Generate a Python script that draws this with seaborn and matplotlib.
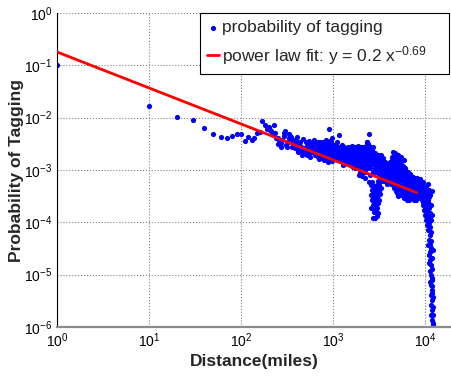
import matplotlib
matplotlib.use('Agg')
import matplotlib.pyplot as plt
import seaborn as sns

# sparse short-distance points
dist_near = [1, 10, 20, 30, 40, 50, 60, 70, 80, 90, 100, 110, 120, 130, 140, 150,
             160, 170, 180, 190, 200]
prob_near = [0.10, 0.0165, 0.0104, 0.0090, 0.0063, 0.0048, 0.0042, 0.0040, 0.0045,
             0.0048, 0.0048, 0.0036, 0.0043, 0.0037, 0.0041, 0.0050, 0.0054, 0.0086,
             0.0074, 0.0060, 0.0065]

# 200 - 1000 miles
dist_mid = [210, 220, 230, 240, 250, 260, 270, 280, 290, 300, 310, 320, 330, 340, 350,
            360, 370, 390, 400, 420, 430, 440, 450, 460, 480, 490, 500, 510, 520, 530,
            540, 550, 560, 570, 580, 590, 610, 620, 640, 650, 670, 690, 700, 720, 730,
            750, 760, 780, 790, 800, 820, 840, 850, 860, 870, 880, 890, 910, 930, 940,
            970, 980, 1000]
prob_mid = [0.0056, 0.0050, 0.0072, 0.0041, 0.0031, 0.0035, 0.0027, 0.0038, 0.0052,
            0.0056, 0.0030, 0.0034, 0.0040, 0.0044, 0.0043, 0.0037, 0.0032, 0.0026,
            0.0036, 0.0024, 0.0031, 0.0029, 0.0027, 0.0019, 0.0021, 0.0021, 0.0026,
            0.0024, 0.0029, 0.0031, 0.0021, 0.0021, 0.0026, 0.0032, 0.0022, 0.0027,
            0.0022, 0.0025, 0.0020, 0.0024, 0.0022, 0.0018, 0.0030, 0.0026, 0.0024,
            0.0021, 0.0019, 0.0026, 0.00155, 0.0020, 0.0021, 0.0018, 0.0022, 0.0032,
            0.00155, 0.0024, 0.0014, 0.0061, 0.0026, 0.0020, 0.0040, 0.0018, 0.0021]
dist_mid_b = [205, 235, 255, 275, 295, 315, 335, 355, 375, 385, 405, 415, 435, 455,
              470, 485, 505, 525, 545, 565, 585, 600, 615, 630, 645, 660, 680, 695,
              710, 725, 740, 755, 770, 785, 805, 815, 830, 845, 865, 885, 900, 915,
              925, 945, 960, 975, 990]
prob_mid_b = [0.0059, 0.0052, 0.0040, 0.0033, 0.0045, 0.0028, 0.0049, 0.0028, 0.0038,
              0.0030, 0.0043, 0.0022, 0.0035, 0.0023, 0.0039, 0.0026, 0.0034, 0.0019,
              0.0036, 0.0018, 0.0033, 0.0029, 0.0038, 0.0019, 0.0031, 0.0026, 0.0034,
              0.0016, 0.0028, 0.0035, 0.0017, 0.0031, 0.0024, 0.0035, 0.0017, 0.0029,
              0.0037, 0.0026, 0.0019, 0.0030, 0.0016, 0.0036, 0.0022, 0.0028, 0.0034,
              0.0015, 0.0029]

# 1000 - 2600 miles
dist_far = [1050, 1090, 1100, 1110, 1140, 1170, 1190, 1230, 1240, 1250, 1260, 1290,
            1320, 1350, 1380, 1390, 1420, 1450, 1460, 1490, 1530, 1600, 1610, 1620,
            1660, 1690, 1730, 1740, 1780, 1810, 1820, 1870, 1880, 1890, 1920, 1950,
            1960, 1970, 2020, 2060, 2070, 2080, 2110, 2130, 2170, 2180, 2230, 2240,
            2280, 2320, 2340, 2360, 2410, 2420, 2430, 2460, 2470, 2510, 2520, 2530, 2590]
prob_far = [0.0024, 0.0035, 0.0028, 0.0017, 0.0019, 0.0046, 0.0022, 0.00155, 0.0017,
            0.0030, 0.0026, 0.00124, 0.0018, 0.0022, 0.00155, 0.0021, 0.0025, 0.0014,
            0.0018, 0.0021, 0.0018, 0.0024, 0.00155, 0.0029, 0.00115, 0.0026, 0.0021,
            0.0011, 0.0018, 0.0022, 0.0014, 0.0029, 0.0015, 0.0008, 0.0024, 0.0013,
            0.00093, 0.0018, 0.00155, 0.0012, 0.0021, 0.00077, 0.0010, 0.0017, 0.0014,
            0.0024, 0.00115, 0.0007, 0.0018, 0.0035, 0.0024, 0.0035, 0.0032, 0.0026,
            0.0048, 0.00155, 0.00059, 0.00108, 0.0021, 0.0028, 0.0014]
dist_far_b = [1010, 1020, 1030, 1040, 1060, 1070, 1080, 1120, 1130, 1150, 1160, 1180,
              1200, 1210, 1220, 1270, 1280, 1300, 1310, 1330, 1340, 1360, 1370, 1400,
              1410, 1430, 1440, 1470, 1480, 1500, 1510, 1520, 1540, 1550, 1560, 1570,
              1580, 1590, 1630, 1640, 1650, 1670, 1680, 1700, 1710, 1720, 1750, 1760,
              1770, 1790, 1800, 1830, 1840, 1850, 1860, 1900, 1910, 1930, 1940, 1980,
              1990, 2000, 2010, 2030, 2040, 2050, 2090, 2100, 2120, 2140, 2150, 2160,
              2190, 2200, 2210, 2220, 2250, 2260, 2270, 2290, 2300, 2310, 2330, 2350,
              2370, 2380, 2390, 2400, 2440, 2450, 2480, 2490, 2500, 2540, 2550, 2560,
              2570]
prob_far_b = [0.0026, 0.0019, 0.0030, 0.0021, 0.0017, 0.0027, 0.0022, 0.0025, 0.0021,
              0.0027, 0.0016, 0.0024, 0.0019, 0.0027, 0.0021, 0.0019, 0.0023, 0.0016,
              0.0027, 0.0020, 0.0015, 0.0025, 0.0019, 0.0017, 0.0023, 0.0019, 0.0027,
              0.0015, 0.0024, 0.0017, 0.0028, 0.0020, 0.0013, 0.0022, 0.0026, 0.0016,
              0.0019, 0.0012, 0.0021, 0.0017, 0.0024, 0.0019, 0.0014, 0.0022, 0.0016,
              0.0027, 0.0019, 0.0024, 0.0013, 0.0021, 0.0016, 0.0019, 0.0024, 0.0011,
              0.0021, 0.0017, 0.0020, 0.0014, 0.0027, 0.0011, 0.0021, 0.0016, 0.0025,
              0.0019, 0.0013, 0.0027, 0.0016, 0.0022, 0.0013, 0.0020, 0.0009, 0.0027,
              0.0018, 0.0012, 0.0021, 0.0016, 0.0009, 0.0023, 0.0013, 0.0029, 0.0016,
              0.0020, 0.0011, 0.0030, 0.0019, 0.0026, 0.0014, 0.0022, 0.0019, 0.0029,
              0.0012, 0.0024, 0.0017, 0.0021, 0.0008, 0.0017, 0.0025]

# 2600 - 4500 miles, with the dip
dist_dip = [2580, 2600, 2610, 2640, 2650, 2660, 2670, 2710, 2720, 2730, 2735, 2740,
            2770, 2780, 2790, 2800, 2850, 2860, 2865, 2870, 2930, 2980, 2985, 2990,
            3000, 3010, 3015, 3080, 3085, 3090, 3160, 3165, 3170, 3230, 3240, 3250,
            3300, 3330, 3350, 3410, 3450, 3520, 3530, 3580, 3620, 3680, 3720, 3830,
            3860, 3900, 3950, 4000, 4060, 4170, 4270, 4320, 4380]
prob_dip = [0.00033, 0.00019, 0.00051, 0.00059, 0.0024, 0.00041, 0.00027, 0.00012,
            0.00030, 0.0028, 0.00029, 0.00021, 0.00049, 0.00016, 0.0019, 0.00036,
            0.00012, 0.00155, 0.00016, 0.00022, 0.00032, 0.00093, 0.00013, 0.00025,
            0.00051, 0.00124, 0.00019, 0.0017, 0.00041, 0.00015, 0.0011, 0.00027,
            0.00051, 0.00035, 0.00076, 0.0014, 0.0019, 0.00045, 0.0012, 0.0015, 0.0009,
            0.0013, 0.00061, 0.00091, 0.0011, 0.00073, 0.0009, 0.00093, 0.00054,
            0.0007, 0.0012, 0.00061, 0.0008, 0.0011, 0.0007, 0.00155, 0.0010]
dist_dip_b = [2620, 2680, 2690, 2700, 2750, 2760, 2810, 2820, 2830, 2840, 2880, 2890,
              2900, 2910, 2920, 2940, 2950, 2960, 2970, 3020, 3030, 3040, 3050, 3060,
              3070, 3100, 3110, 3120, 3130, 3140, 3180, 3190, 3200, 3210, 3260, 3280,
              3320, 3380, 3400, 3430, 3480, 3500, 3550, 3600, 3650, 3700, 3750, 3780,
              3800, 3880, 3920, 3980, 4020, 4100, 4130, 4200, 4230, 4300, 4350, 4400,
              4420, 4450]
prob_dip_b = [0.0017, 0.0013, 0.0021, 0.0009, 0.0016, 0.00024, 0.0013, 0.00045, 0.0021,
              0.00028, 0.0011, 0.00018, 0.0017, 0.00038, 0.0013, 0.0009, 0.00021, 0.0015,
              0.00044, 0.0009, 0.00031, 0.0014, 0.00023, 0.0019, 0.00063, 0.0012,
              0.00034, 0.0008, 0.0016, 0.00058, 0.0013, 0.00039, 0.0009, 0.0017,
              0.00068, 0.0011, 0.0008, 0.0016, 0.00072, 0.0011, 0.0017, 0.00082, 0.0011,
              0.00066, 0.0014, 0.0008, 0.0012, 0.00062, 0.0010, 0.0008, 0.00057, 0.0009,
              0.0013, 0.00066, 0.0009, 0.0014, 0.00055, 0.0009, 0.0012, 0.00066, 0.0018,
              0.0009]

# 4500 - 9000 miles
dist_west = [4480, 4490, 4530, 4590, 4600, 4710, 4720, 4830, 4840, 4850, 4950, 4960,
             5080, 5090, 5100, 5200, 5220, 5230, 5340, 5350, 5480, 5490, 5600, 5620,
             5640, 5750, 5770, 5900, 5910, 5920, 6050, 6060, 6200, 6220, 6230, 6360,
             6370, 6520, 6540, 6690, 6700, 6860, 6870, 6880, 7040, 7050, 7210, 7220,
             7400, 7410, 7580, 7590, 7600, 7780, 7790, 7980, 7990, 8180, 8190, 8380,
             8390, 8400, 8600, 8610, 8820, 8830]
prob_west = [0.00051, 0.0017, 0.0022, 0.0008, 0.0014, 0.00064, 0.0021, 0.0004, 0.0011,
             0.00087, 0.00051, 0.00155, 0.00077, 0.0019, 0.00032, 0.00043, 0.0010,
             0.00124, 0.00064, 0.0014, 0.00033, 0.0018, 0.00049, 0.00114, 0.0007,
             0.00038, 0.0008, 0.00029, 0.00155, 0.00064, 0.00045, 0.0010, 0.00036,
             0.00073, 0.00056, 0.00027, 0.00051, 0.00033, 0.00091, 0.00027, 0.00064,
             0.00029, 0.00041, 0.0007, 0.00036, 0.00077, 0.0003, 0.00054, 0.00033,
             0.00064, 0.00027, 0.00045, 0.0007, 0.00032, 0.00056, 0.00027, 0.00041,
             0.00033, 0.0007, 0.00029, 0.00049, 0.00064, 0.00049, 0.00038, 0.0003,
             0.00059]
dist_west_b = [4550, 4620, 4650, 4680, 4750, 4780, 4800, 4880, 4900, 4920, 5000, 5020,
               5050, 5120, 5150, 5170, 5260, 5290, 5310, 5400, 5420, 5450, 5530, 5560,
               5580, 5680, 5700, 5720, 5800, 5830, 5860, 5960, 5990, 6000, 6100, 6130,
               6160, 6260, 6290, 6320, 6420, 6450, 6480, 6580, 6610, 6640, 6750, 6780,
               6810, 6930, 6960, 6990, 7100, 7130, 7160, 7280, 7310, 7340, 7460, 7490,
               7520, 7650, 7680, 7710, 7850, 7880, 7910, 8050, 8080, 8110, 8250, 8280,
               8310, 8470, 8500, 8530, 8700, 8730, 8760]
prob_west_b = [0.0011, 0.00045, 0.0018, 0.0009, 0.0013, 0.00055, 0.0017, 0.0007,
               0.0012, 0.00036, 0.0009, 0.0014, 0.00058, 0.0011, 0.00045, 0.0016, 0.0008,
               0.00052, 0.0011, 0.0009, 0.00041, 0.0013, 0.0007, 0.00037, 0.0010,
               0.0008, 0.00045, 0.0012, 0.00062, 0.00033, 0.0009, 0.0007, 0.00037,
               0.0011, 0.00058, 0.00031, 0.0008, 0.00045, 0.00068, 0.00034, 0.0006,
               0.00041, 0.00078, 0.00047, 0.00031, 0.00074, 0.00052, 0.00036, 0.00084,
               0.00058, 0.00033, 0.00047, 0.00063, 0.00041, 0.00029, 0.00047, 0.00074,
               0.00036, 0.00054, 0.0004, 0.0003, 0.00058, 0.00038, 0.00049, 0.00063,
               0.00035, 0.00046, 0.00054, 0.00037, 0.00066, 0.00044, 0.00058, 0.00031,
               0.00056, 0.0004, 0.00034, 0.00052, 0.00042, 0.00068]

# 9000 miles and beyond: the steep tail
dist_tail = [9050, 9280, 9300, 9520, 9525, 9740, 9760, 10000, 10010, 10230, 10250,
             10260, 10500, 10510, 10520, 10760, 10780, 10790, 10795, 10800, 11030,
             11040, 11045, 11050, 11060, 11300, 11310, 11320, 11330, 11335, 11340,
             11345, 11600, 11610, 11620, 11625, 11630, 11640, 11650, 11655, 11900,
             11905, 11910, 11915, 11920, 11925, 11930, 11940, 12200, 12205, 12210]
prob_tail = [0.00045, 0.00033, 0.00051, 0.00024, 0.00059, 0.00017, 0.00041, 0.00029,
             0.00014, 0.00011, 0.00021, 0.00049, 0.00016, 0.00035, 8.8e-5, 7.1e-5,
             0.00027, 0.00012, 3.7e-5, 0.00054, 2.4e-5, 9.5e-5, 1.7e-5, 0.00041, 4.6e-5,
             0.00033, 1.2e-5, 1.9e-5, 3.7e-5, 2.7e-5, 5.7e-5, 7.1e-6, 9.8e-6, 1.5e-5,
             6.3e-6, 0.00021, 2.9e-5, 4.1e-6, 2.6e-6, 1.7e-6, 0.00039, 0.00014, 3.3e-6,
             7.9e-6, 5.1e-6, 4.5e-6, 2.1e-6, 1.35e-6, 1.7e-6, 2.9e-5, 1.08e-6]
dist_tail_b = [9100, 9150, 9400, 9450, 9650, 9700, 9900, 9950, 10100, 10150, 10350,
               10400, 10650, 10700, 10900, 10950, 10960, 11150, 11180, 11200, 11450,
               11480, 11500, 11700, 11750, 11800, 11850, 12000, 12050, 12100, 12150]
prob_tail_b = [0.00038, 0.00027, 0.00043, 0.00021, 0.00031, 0.00026, 0.00036, 0.00018,
               0.00025, 0.00013, 0.00031, 0.00019, 0.00024, 0.00011, 0.00031, 0.00019,
               0.00013, 0.00022, 8e-5, 0.00015, 4.4e-5, 0.00011, 6.5e-5, 3.3e-5, 2.1e-5,
               1.3e-5, 8.8e-6, 6e-6, 3.8e-6, 2.4e-6, 1.2e-6]

# power law fit line end points
fit_dist = [1, 8100]
fit_prob = [0.18, 0.00037]

dist = (dist_near + dist_mid + dist_mid_b + dist_far + dist_far_b + dist_dip
        + dist_dip_b + dist_west + dist_west_b + dist_tail + dist_tail_b)
prob = (prob_near + prob_mid + prob_mid_b + prob_far + prob_far_b + prob_dip
        + prob_dip_b + prob_west + prob_west_b + prob_tail + prob_tail_b)

sns.set_style('white')
plt.rcParams['font.family'] = ['Liberation Sans', 'DejaVu Sans']
plt.rcParams['mathtext.default'] = 'regular'

fig = plt.figure(figsize=(4.52, 3.78), dpi=100)
ax = fig.add_axes([57 / 452, 51 / 378, 395 / 452, 314 / 378])
ax.set_xscale('log')
ax.set_yscale('log')

sns.scatterplot(x=dist, y=prob, ax=ax, color='#0000ff', s=14, linewidth=0,
                label='probability of tagging', zorder=2)
sns.lineplot(x=fit_dist, y=fit_prob, ax=ax, color='#ff0000', linewidth=2,
             label='power law fit: y = 0.2 x$^{-0.69}$    ', zorder=3)

ax.set_xlim(1, 1.96e4)
ax.set_ylim(1e-6, 1)
ax.grid(True, which='major', linestyle=':', color='#808080', linewidth=0.8)
ax.set_axisbelow(True)
ax.spines['top'].set_visible(False)
ax.spines['right'].set_visible(False)
ax.spines['left'].set_color('black')
ax.spines['left'].set_linewidth(0.8)
ax.spines['bottom'].set_color('#8c8c8c')
ax.spines['bottom'].set_linewidth(1.6)
ax.tick_params(which='both', direction='in', top=False, right=False,
               colors='black', labelsize=10)
ax.tick_params(which='major', length=4, width=0.8)
ax.tick_params(which='minor', length=2, width=0.6)

ax.set_xlabel('Distance(miles)', fontsize=12.5, fontweight='bold')
ax.set_ylabel('Probability of Tagging', fontsize=12.5, fontweight='bold')
ax.xaxis.set_label_coords(0.5, -0.085)
ax.yaxis.set_label_coords(-0.083, 0.5)

leg = ax.legend(loc='upper right', bbox_to_anchor=(0.9924, 1.0), borderaxespad=0,
                fancybox=False, edgecolor='black', framealpha=1, fontsize=12.5,
                handlelength=0.7, handletextpad=0.15, labelspacing=0.5,
                borderpad=0.4)
leg.get_frame().set_linewidth(0.8)

fig.savefig('out.png', dpi=100)
